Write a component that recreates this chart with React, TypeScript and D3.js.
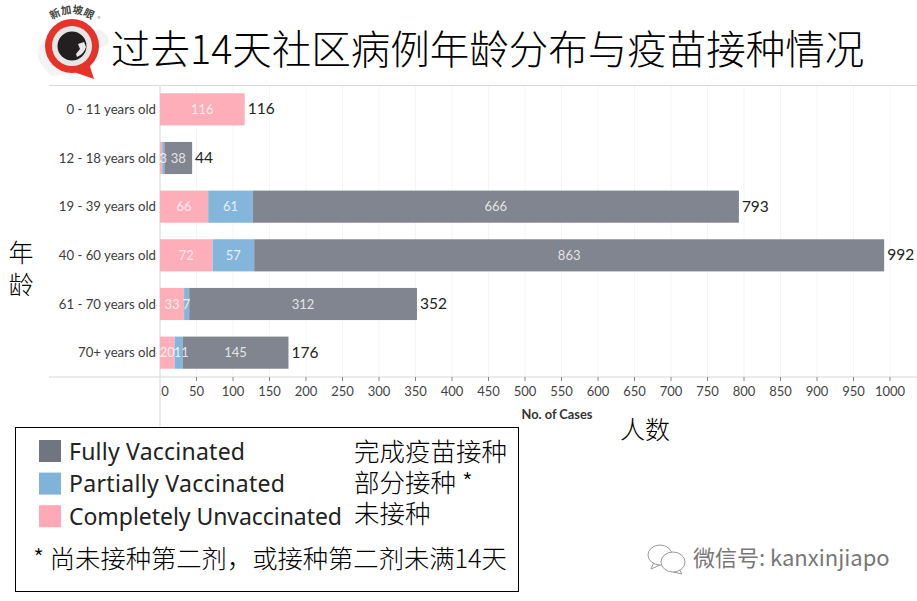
import React from "react";
import * as d3 from "d3";

const ageGroups = ["0 - 11 years old", "12 - 18 years old", "19 - 39 years old", "40 - 60 years old", "61 - 70 years old", "70+ years old"];
const unvaccinated = [116, 3, 66, 72, 33, 20];
const partial = [0, 3, 61, 57, 7, 11];
const fully = [0, 38, 666, 863, 312, 145];
const totals = [116, 44, 793, 992, 352, 176];
const unvacLabels = ["116", "", "66", "72", "33", "20"];
const partialLabels = ["", "3", "61", "57", "7", "11"];
const fullyLabels = ["", "38", "666", "863", "312", "145"];
const xTicks = d3.range(0, 1001, 50);
const legendEn = ["Fully Vaccinated", "Partially Vaccinated", "Completely Unvaccinated"];
const legendEnWidths = [176, 216, 273];
const legendZh = ["完成疫苗接种", "部分接种 *", "未接种"];
const colors = ["#81858f", "#84b6dc", "#feaeb8"];
const legendColors = ["#717580", "#7fb3da", "#ffa9b6"];

const cjk = "'Noto Sans CJK SC', sans-serif";
const lato = "Lato, sans-serif";

export default function App() {
  const x = d3.scaleLinear().domain([0, 1000]).range([160, 890]);
  const y = d3.scaleBand().domain(ageGroups).range([85, 377]).paddingInner(0.34).paddingOuter(0.17);
  const rows = ageGroups.map((g, i) => {
    const vals = [unvaccinated[i], partial[i], fully[i]];
    const labels = [unvacLabels[i], partialLabels[i], fullyLabels[i]];
    const fills = [colors[2], colors[1], colors[0]];
    let acc = 0;
    let prevX = 0;
    let prevLen = 0;
    const segs = vals.map((v, k) => {
      const center = (x(acc) + x(acc + v)) / 2;
      const lx = prevLen && labels[k] ? Math.max(center, prevX + (prevLen + labels[k].length) * 3.5) : center;
      const s = { x0: acc, x1: acc + v, label: labels[k], fill: fills[k], lx };
      acc += v;
      if (labels[k]) {
        prevX = lx;
        prevLen = labels[k].length;
      }
      return s;
    });
    return { g, segs, total: totals[i] };
  });
  return (
    <svg width={917} height={601} style={{ position: "absolute", left: 0, top: 0, background: "#fff" }}>
      {/* logo */}
      <g>
        <path d="M38 58 Q36 44 50 36 L62 30 L100 30 Q112 36 108 44 L96 50 L92 64 L70 74 L52 76 Q44 70 38 58 Z" fill="#f3f3f3" />
        <path d="M68 70 L94 79 L87 57 Z" fill="#e5332a" />
        <circle cx={72} cy={46} r={27} fill="#e5332a" />
        <circle cx={72} cy={46} r={20} fill="#e6e6e6" />
        <circle cx={72} cy={46} r={14.5} fill="#231f20" />
        <path d="M76 54 L80 49 L78 44 L84 42 L86 47 Q84 54 77 57 Z" fill="#e8e8e8" />
        <defs>
          <path id="logoArc" d="M47 25 A33 33 0 0 1 97 25" />
        </defs>
        <text fontFamily={cjk} fontSize={10.5} fill="#444" fontWeight={700}>
          <textPath href="#logoArc" startOffset="50%" textAnchor="middle">新加坡眼</textPath>
        </text>
        <text x={99} y={21} textAnchor="middle" fontFamily={cjk} fontSize={6} fill="#888">®</text>
      </g>
      <text x={111} y={64} fontFamily={cjk} fontWeight={300} fontSize={39.5} fill="#000">过去14天社区病例年龄分布与疫苗接种情况</text>

      {/* grid */}
      {xTicks.slice(1).map((t) => (
        <line key={t} x1={x(t)} x2={x(t)} y1={86} y2={377} stroke="#f5f5f5" />
      ))}
      <line x1={49} x2={917} y1={85.5} y2={85.5} stroke="#d8d8d8" />
      <line x1={49} x2={917} y1={377} y2={377} stroke="#e4e4e4" strokeWidth={1.5} />
      <line x1={160} x2={160} y1={85} y2={428} stroke="#e2e2e2" strokeWidth={1.5} />

      {/* bars */}
      {rows.map((r) => (
        <g key={r.g}>
          <text x={156} y={y(r.g)! + y.bandwidth() / 2 + 4.5} textAnchor="end" fontFamily={lato} fontSize={13.2} fill="#3c3c3c">{r.g}</text>
          {r.segs.map((s, k) =>
            s.x1 > s.x0 ? <rect key={k} x={x(s.x0)} y={y(r.g)} width={x(s.x1) - x(s.x0)} height={y.bandwidth()} fill={s.fill} /> : null
          )}
          {r.segs.map((s, k) =>
            s.label ? (
              <text key={k} x={s.lx} y={y(r.g)! + y.bandwidth() / 2 + 4.5} textAnchor="middle" fontFamily={lato} fontSize={13} fill="#fff" fillOpacity={0.8}>{s.label}</text>
            ) : null
          )}
          <text x={x(r.total) + 3} y={y(r.g)! + y.bandwidth() / 2 + 5} fontFamily={lato} fontSize={15.5} fill="#222">{r.total}</text>
        </g>
      ))}

      {/* x axis */}
      {xTicks.map((t) => (
        <g key={t}>
          {t > 0 && <line x1={x(t)} x2={x(t)} y1={377} y2={381} stroke="#888" />}
          <text x={t === 0 ? x(t) + 5 : x(t)} y={396} textAnchor="middle" fontFamily={lato} fontSize={13} fill="#444">{t}</text>
        </g>
      ))}
      <text x={557} y={419} textAnchor="middle" fontFamily={lato} fontWeight={700} fontSize={12.8} fill="#333">No. of Cases</text>
      <text x={645} y={439} textAnchor="middle" fontFamily={cjk} fontWeight={300} fontSize={25} fill="#000">人数</text>
      <text x={21} y={262} textAnchor="middle" fontFamily={cjk} fontWeight={300} fontSize={25} fill="#000">年</text>
      <text x={21} y={294} textAnchor="middle" fontFamily={cjk} fontWeight={300} fontSize={25} fill="#000">龄</text>

      {/* legend */}
      <rect x={15.5} y={427.5} width={503} height={164} fill="#fff" stroke="#000" strokeWidth={1} />
      {legendEn.map((t, i) => (
        <g key={t}>
          <rect x={39} y={440 + i * 32.6} width={22} height={22} fill={legendColors[i]} />
          <text x={69} y={460 + i * 32.3} fontFamily="'Noto Sans', sans-serif" fontSize={23} fill="#222" textLength={legendEnWidths[i]} lengthAdjust="spacing">{t}</text>
          <text x={354} y={461 + i * 31} fontFamily={cjk} fontWeight={300} fontSize={25.5} fill="#000">{legendZh[i]}</text>
        </g>
      ))}
      <text x={33} y={568} fontFamily={cjk} fontWeight={300} fontSize={25.3} fill="#000">* 尚未接种第二剂，或接种第二剂未满14天</text>

      {/* watermark */}
      <g fill="#fff" stroke="#999" strokeWidth={1}>
        <path d="M654 562 L651 569 L660 565" />
        <ellipse cx={660} cy={555} rx={12} ry={10} />
        <path d="M679 569 L682 574 L673 572" />
        <ellipse cx={673} cy={562} rx={12} ry={10} />
      </g>
      <text x={693} y={566} fontFamily={cjk} fontSize={22} fill="#777">微信号: kanxinjiapo</text>
    </svg>
  );
}
